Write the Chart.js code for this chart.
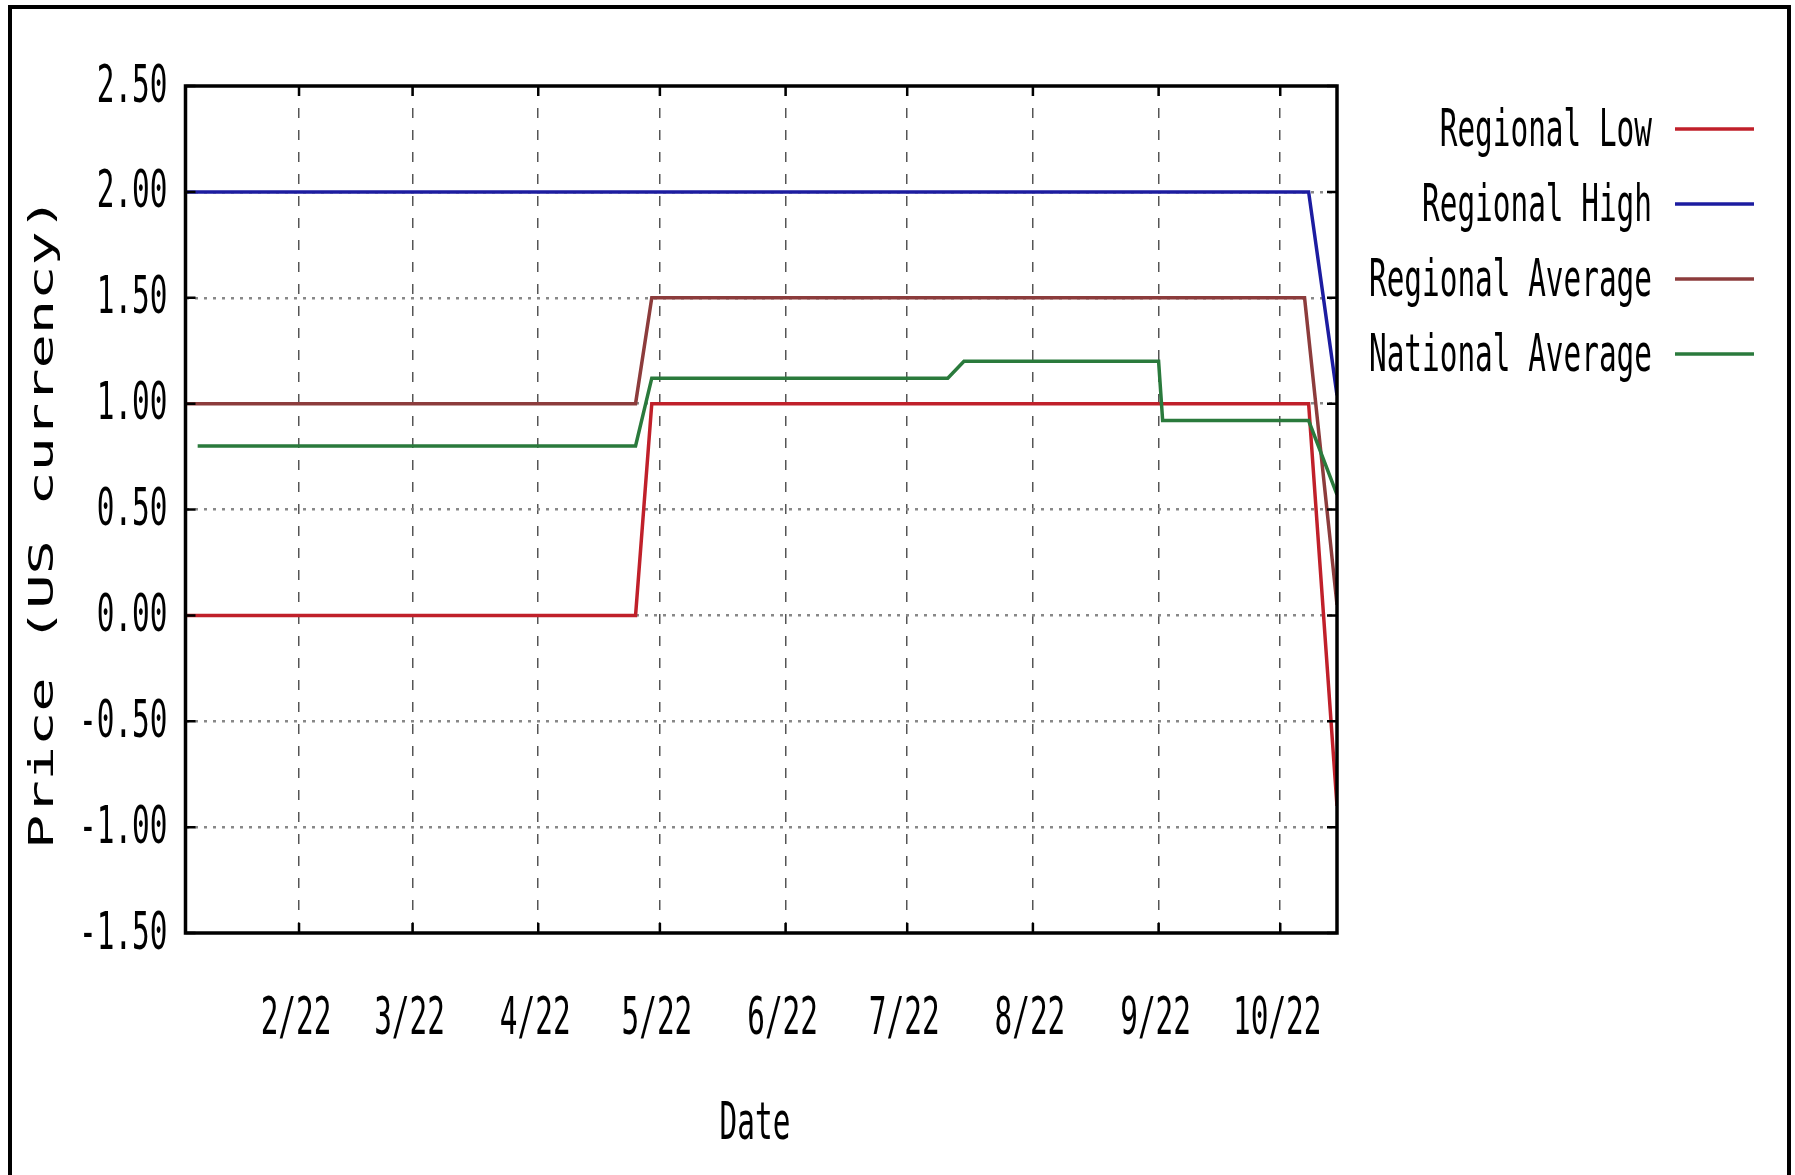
<!DOCTYPE html>
<html>
<head>
<meta charset="utf-8">
<script src="https://cdn.jsdelivr.net/npm/chart.js@4.4.0/dist/chart.umd.min.js"></script>
<style>
  html, body { margin: 0; padding: 0; background: #fff; overflow: hidden; }
  #chart { display: block; }
</style>
</head>
<body>
<canvas id="chart" width="1795" height="1175"></canvas>
<script>
// x values are day-of-year 2022
const xMin = 4;
const xMax = 288;
const monthTicks = [32, 60, 91, 121, 152, 182, 213, 244, 274];
const monthLabels = ["2/22", "3/22", "4/22", "5/22", "6/22", "7/22", "8/22", "9/22", "10/22"];
const yTicks = [-1.5, -1.0, -0.5, 0.0, 0.5, 1.0, 1.5, 2.0, 2.5];

// series
const lowDays = [4, 115, 119, 281, 288];
const lowValues = [0.00, 0.00, 1.00, 1.00, -0.90];
const highDays = [4, 281, 288];
const highValues = [2.00, 2.00, 1.04];
const regAvgDays = [4, 115, 119, 280, 288];
const regAvgValues = [1.00, 1.00, 1.50, 1.50, 0.05];
const natAvgDays = [7, 115, 119, 192, 196, 244, 245, 281, 288];
const natAvgValues = [0.80, 0.80, 1.12, 1.12, 1.20, 1.20, 0.92, 0.92, 0.57];

const seriesNames = ["Regional Low", "Regional High", "Regional Average", "National Average"];
const seriesColors = ["#c0202a", "#1c1ca0", "#8c3c3c", "#2a7a3c"];

const FONT = "52px 'DejaVu Sans Mono', monospace";
const SQUEEZE = 0.565;

function points(days, values) {
  return days.map((d, i) => ({ x: d, y: values[i] }));
}

// draw text squeezed horizontally, like the stretched gnuplot fonts
function squeezedText(ctx, text, x, y, align) {
  ctx.save();
  ctx.translate(x, y);
  ctx.scale(SQUEEZE, 1);
  ctx.textAlign = align;
  ctx.textBaseline = "middle";
  ctx.fillText(text, 0, 0);
  ctx.restore();
}

// frame, border ticks, labels and legend
const gnuplotLook = {
  id: "gnuplotLook",
  beforeDraw(chart) {
    const ctx = chart.ctx;
    ctx.save();
    ctx.strokeStyle = "#000";
    ctx.lineWidth = 4;
    ctx.beginPath();
    ctx.moveTo(10, 1175);
    ctx.lineTo(10, 7);
    ctx.lineTo(1789, 7);
    ctx.lineTo(1789, 1175);
    ctx.stroke();
    ctx.restore();
  },
  afterDatasetsDraw(chart) {
    const ctx = chart.ctx;
    const a = chart.chartArea;
    const xs = chart.scales.x;
    const ys = chart.scales.y;
    ctx.save();
    ctx.strokeStyle = "#000";
    ctx.lineWidth = 3.5;
    ctx.strokeRect(a.left, a.top, a.right - a.left, a.bottom - a.top);
    ctx.lineWidth = 2.5;
    ctx.beginPath();
    monthTicks.forEach(v => {
      const px = xs.getPixelForValue(v);
      ctx.moveTo(px, a.bottom); ctx.lineTo(px, a.bottom - 10);
      ctx.moveTo(px, a.top); ctx.lineTo(px, a.top + 10);
    });
    yTicks.forEach(v => {
      const py = ys.getPixelForValue(v);
      ctx.moveTo(a.left, py); ctx.lineTo(a.left + 10, py);
      ctx.moveTo(a.right, py); ctx.lineTo(a.right - 10, py);
    });
    ctx.stroke();

    ctx.fillStyle = "#000";
    ctx.font = FONT;
    // y tick labels
    yTicks.forEach(v => {
      squeezedText(ctx, v.toFixed(2), a.left - 18, ys.getPixelForValue(v) + 2, "right");
    });
    // x tick labels
    monthTicks.forEach((v, i) => {
      squeezedText(ctx, monthLabels[i], xs.getPixelForValue(v) - 3, 1020, "center");
    });
    // x title
    squeezedText(ctx, "Date", 755, 1125, "center");
    // y title, rotated
    ctx.save();
    ctx.translate(44, 523);
    ctx.rotate(-Math.PI / 2);
    ctx.scale(1, 0.6);
    ctx.font = "57px 'DejaVu Sans Mono', monospace";
    ctx.textAlign = "center";
    ctx.textBaseline = "middle";
    ctx.fillText("Price (US currency)", 0, 0);
    ctx.restore();

    // legend
    ctx.font = FONT;
    seriesNames.forEach((name, i) => {
      const y = 129 + i * 75;
      ctx.fillStyle = "#000";
      squeezedText(ctx, name, 1652, y + 3, "right");
      ctx.strokeStyle = seriesColors[i];
      ctx.lineWidth = 3.5;
      ctx.beginPath();
      ctx.moveTo(1675, y);
      ctx.lineTo(1754, y);
      ctx.stroke();
    });
    ctx.restore();
  }
};

const allDays = [lowDays, highDays, regAvgDays, natAvgDays];
const allValues = [lowValues, highValues, regAvgValues, natAvgValues];

const priceChart = new Chart(document.getElementById("chart").getContext("2d"), {
  type: "line",
  data: {
    datasets: seriesNames.map((name, i) => ({
      label: name,
      data: points(allDays[i], allValues[i]),
      borderColor: seriesColors[i],
      backgroundColor: seriesColors[i],
      borderWidth: 3.5,
      pointRadius: 0,
      tension: 0,
      fill: false,
      order: seriesNames.length - i
    }))
  },
  options: {
    responsive: false,
    animation: false,
    events: [],
    layout: {
      padding: { left: 185.5, top: 86, right: 458, bottom: 242 }
    },
    scales: {
      x: {
        type: "linear",
        min: xMin,
        max: xMax,
        afterBuildTicks: s => { s.ticks = monthTicks.map(v => ({ value: v })); },
        afterFit: s => { s.height = 0; },
        ticks: { display: false },
        grid: { color: "#555", lineWidth: 1.5, drawTicks: false },
        border: { display: false, dash: [10, 12] }
      },
      y: {
        min: -1.5,
        max: 2.5,
        afterBuildTicks: s => { s.ticks = yTicks.map(v => ({ value: v })); },
        afterFit: s => { s.width = 0; },
        ticks: { display: false },
        grid: {
          color: c => (c.tick && (c.tick.value === 2.5 || c.tick.value === -1.5)) ? "rgba(0,0,0,0)" : "#888",
          lineWidth: 2.5,
          drawTicks: false
        },
        border: { display: false, dash: [3, 6] }
      }
    },
    plugins: {
      legend: { display: false },
      tooltip: { enabled: false }
    }
  },
  plugins: [gnuplotLook]
});
</script>
</body>
</html>
